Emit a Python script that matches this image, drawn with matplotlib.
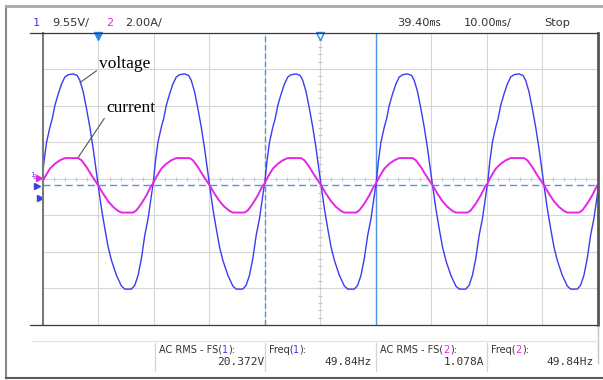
import numpy as np
import matplotlib
matplotlib.use("Agg")
import matplotlib.pyplot as plt
from matplotlib.lines import Line2D

# one cycle of each trace (ms from rising zero crossing)
volt_t = [0.0, 0.42, 0.9, 1.5, 1.92, 2.4, 3.0, 3.6, 4.2, 4.8, 5.7, 6.42, 6.9, 7.5,
          8.1, 8.7, 9.3, 9.78, 10.2, 10.8, 11.4, 12.0, 12.6, 13.5, 14.4, 15.0,
          16.2, 16.8, 17.4, 18.0, 18.6, 19.2, 19.8, 20.06]
volt_v = [0.0, 6.1, 11.3, 15.2, 17.4, 20.9, 23.9, 26.5, 28.3, 28.9, 29.1, 28.7, 27.4, 24.4,
          20.0, 15.2, 9.6, 4.4, 0.0, -6.1, -11.3, -16.1, -19.6, -23.5, -26.3, -27.1,
          -27.1, -26.1, -23.5, -19.1, -13.1, -8.7, -2.6, 0.0]
cur_t = [-0.18, 0.6, 1.5, 2.4, 3.3, 4.2, 6.6, 7.2, 8.1, 9.0, 10.2, 11.1, 12.0, 12.9,
         13.8, 14.4, 16.5, 17.1, 18.0, 18.9, 19.8]
cur_a = [0.0, 0.46, 0.91, 1.18, 1.37, 1.49, 1.49, 1.37, 1.00, 0.55, 0.0, -0.46, -0.87, -1.18,
         -1.40, -1.49, -1.49, -1.37, -1.00, -0.55, 0.0]
cycle_starts = [-0.25, 19.84, 39.95, 60.05, 80.15]

volts_per_div = 9.55
amps_per_div = 2.00
ground_div = -0.18

header = ["9.55V/", "2.00A/", "39.40\u33b3", "10.00\u33b3/", "Stop"]
meas_labels = [("AC RMS - FS(", "1", "):"), ("Freq(", "1", "):"),
               ("AC RMS - FS(", "2", "):"), ("Freq(", "2", "):")]
meas_values = ["20.372V", "49.84Hz", "1.078A", "49.84Hz"]

BLUE = "#3b3bf2"
MAG = "#e526e5"
CURSOR = "#4d96e6"
TXT = "#333333"

W, H = 603, 380


def fx(x):
    return x / W


def fy(y):
    return 1 - y / H


def hline(y, x0, x1, **kw):
    fig.add_artist(Line2D([fx(x0), fx(x1)], [fy(y), fy(y)], **kw))


def vline(x, y0, y1, **kw):
    fig.add_artist(Line2D([fx(x), fx(x)], [fy(y0), fy(y1)], **kw))


fig = plt.figure(figsize=(6.03, 3.80), dpi=100)
fig.patch.set_facecolor("white")

ax = fig.add_axes([fx(43), fy(325), (597.5 - 43) / W, (325 - 32.5) / H])
ax.set_xlim(0, 100)
ax.set_ylim(-4, 4)
ax.set_xticks([])
ax.set_yticks([])
for s in ax.spines.values():
    s.set_visible(False)

# graticule
for k in range(1, 10):
    ax.axvline(k * 10, color="#d6d6d6", lw=0.8, zorder=0)
for k in range(-3, 4):
    ax.axhline(k, color="#d6d6d6", lw=0.8, zorder=0)
ax.vlines(np.arange(2, 100, 2), -0.06, 0.06, color="#c4c4c4", lw=0.8, zorder=0)
ax.hlines(np.arange(-3.8, 4, 0.2), 49.6, 50.4, color="#c4c4c4", lw=0.8, zorder=0)

# cursors and ground reference
ax.axvline(40, color=CURSOR, lw=1.0, ls=(0, (4, 2)), zorder=1)
ax.axvline(60, color=CURSOR, lw=1.0, zorder=1)
ax.axhline(ground_div, color=CURSOR, lw=1.0, ls=(0, (5, 3)), zorder=1)

# traces
vt = np.concatenate([np.array(volt_t) + s for s in cycle_starts])
vv = np.concatenate([volt_v for s in cycle_starts])
ct = np.concatenate([np.array(cur_t) + s for s in cycle_starts])
ca = np.concatenate([cur_a for s in cycle_starts])
ax.plot(vt, vv / volts_per_div + ground_div, color=BLUE, lw=1.0, zorder=3)
ax.plot(ct, ca / amps_per_div + ground_div, color=MAG, lw=1.4, zorder=3)

# markers on the edges
ax.plot([10], [3.9], marker="v", ms=6, color="#2f86e8", clip_on=False, zorder=5)
ax.plot([50], [3.9], marker="v", ms=6, mfc="white", mec="#2f86e8", mew=1.0,
        clip_on=False, zorder=5)
ax.plot([-0.8], [0.03], marker=">", ms=4, color=MAG, clip_on=False)
ax.plot([-1.1], [ground_div - 0.03], marker=">", ms=4, color=BLUE, clip_on=False)
ax.plot([-0.6], [-0.53], marker=">", ms=4, color=BLUE, clip_on=False)
fig.text(fx(30), fy(175), "1", color=BLUE, fontsize=5, va="center")
fig.text(fx(33), fy(177), "2", color=MAG, fontsize=5, va="center")

# labels with leader lines
ax.annotate("voltage", xy=(6.67, 2.63), xytext=(99.3, H - 64), textcoords="figure pixels",
            fontsize=12.5, family="Liberation Serif", va="center", ha="left",
            arrowprops=dict(arrowstyle="-", color="#555555", lw=0.8,
                            shrinkA=0, shrinkB=0, relpos=(0, 0.2)))
ax.annotate("current", xy=(6.37, 0.59), xytext=(106.7, H - 107.7), textcoords="figure pixels",
            fontsize=12.5, family="Liberation Serif", va="center", ha="left",
            arrowprops=dict(arrowstyle="-", color="#555555", lw=0.8,
                            shrinkA=0, shrinkB=0, relpos=(0, 0.05)))

# frame around the screen
vline(43, 32.5, 325, color="#7a7a7a", lw=1.5)
vline(597.5, 32.5, 325, color="#555555", lw=2.0)
vline(597.5, 325, 363, color="#c4c4c4", lw=1.0)
hline(32.5, 30, 597.5, color="#3a3a3a", lw=0.9)
hline(325, 30, 597.5, color="#3a3a3a", lw=0.9)
hline(341, 32, 597, color="#e4e4e4", lw=0.9)
vline(6, 6, 378, color="#8a8a8a", lw=1.5)
hline(6, 6, 603, color="#a8a8a8", lw=2.0)
hline(378, 6, 603, color="#5a5a5a", lw=1.5)
for x in [154.5, 265, 376, 487]:
    vline(x, 343, 371, color="#d4d4d4", lw=0.9)

# header
hfam = ["DejaVu Sans", "Noto Sans CJK JP"]
hs = 8.2
fig.text(fx(33), fy(23), "1", color=BLUE, fontsize=hs, va="center")
fig.text(fx(52), fy(23), header[0], color=TXT, fontsize=hs, va="center", family=hfam)
fig.text(fx(106), fy(23), "2", color=MAG, fontsize=hs, va="center")
fig.text(fx(125), fy(23), header[1], color=TXT, fontsize=hs, va="center", family=hfam)
fig.text(fx(397), fy(23), header[2], color=TXT, fontsize=hs, va="center", family=hfam)
fig.text(fx(464), fy(23), header[3], color=TXT, fontsize=hs, va="center", family=hfam)
fig.text(fx(544), fy(23), header[4], color=TXT, fontsize=hs, va="center", family=hfam)

# measurement table
renderer = fig.canvas.get_renderer()
label_x = [158.5, 268.5, 380.5, 491]
value_x = [264.5, 372, 484, 594]
for (a, n, b), lx, val, rx in zip(meas_labels, label_x, meas_values, value_x):
    x = fx(lx)
    for piece, col in [(a, TXT), (n, BLUE if n == "1" else MAG), (b, TXT)]:
        t = fig.text(x, fy(350), piece, color=col, fontsize=7, va="center")
        bb = t.get_window_extent(renderer)
        x += bb.width / (W)
    fig.text(fx(rx), fy(362), val, color=TXT, fontsize=8, va="center", ha="right",
             family="DejaVu Sans Mono")

fig.savefig("out.png", dpi=100)
